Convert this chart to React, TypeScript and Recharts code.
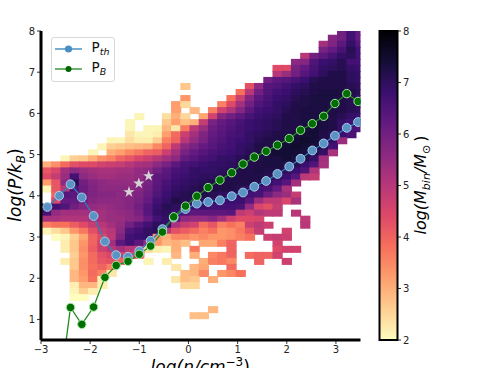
import { Bar, BarChart, ComposedChart, Label, Legend, Line, Scatter, XAxis, YAxis, ZAxis } from "recharts";

const FONT = "DejaVu Sans";

// log mass per bin, one list per row of the histogram, top row first; 0 = empty bin
const rowStarts = [32, 31, 30, 30, 28, 27, 25, 25, 24, 15, 21, 15, 14, 14, 10, 9, 9, 9, 7, 6, 5, 2, 0, 0, 0, 0, 0, 1, 1, 0, 0, 0, 0, 0, 1, 2, 2, 3, 2, 3, 3, 3, 3, 3, 3, 18, 16];
const row00 = [6.0, 6.7, 6.2];
const row01 = [5.7, 6.0, 6.7, 6.2];
const row02 = [5.3, 5.8, 6.3, 6.9, 6.4];
const row03 = [5.9, 6.2, 6.6, 7.1, 6.7];
const row04 = [5.0, 6.0, 6.3, 6.6, 6.9, 7.0, 6.7];
const row05 = [5.6, 5.7, 6.5, 6.8, 6.9, 7.1, 6.7, 6.7];
const row06 = [4.4, 4.4, 5.9, 6.2, 6.6, 6.9, 7.0, 7.1, 6.9, 6.8];
const row07 = [5.0, 5.4, 6.0, 6.4, 6.7, 7.0, 7.2, 7.2, 7.0, 6.9];
const row08 = [6.0, 6.3, 6.4, 6.6, 6.8, 7.1, 7.2, 7.2, 7.2, 7.0, 6.9];
const row09 = [2.7, 0, 0, 0, 0, 0, 0, 4.3, 5.6, 6.4, 6.5, 6.7, 6.9, 7.0, 7.2, 7.2, 7.2, 7.2, 7.1, 7.0];
const row10 = [3.8, 5.0, 6.0, 6.5, 6.7, 6.8, 7.0, 7.1, 7.2, 7.3, 7.3, 7.3, 7.2, 7.1];
const row11 = [3.3, 0, 0, 0, 0, 3.8, 4.7, 5.7, 6.3, 6.6, 6.8, 6.9, 7.1, 7.2, 7.3, 7.3, 7.3, 7.2, 7.1, 6.9];
const row12 = [3.2, 2.5, 0, 0, 0, 3.6, 4.4, 5.3, 6.0, 6.5, 6.7, 6.9, 7.0, 7.2, 7.2, 7.3, 7.3, 7.2, 7.2, 7.1, 7.1];
const row13 = [3.2, 0, 2.9, 0, 3.6, 4.6, 5.1, 5.7, 6.3, 6.7, 6.8, 6.9, 7.1, 7.2, 7.3, 7.3, 7.3, 7.2, 7.2, 7.1, 7.0];
const row14 = [2.1, 0, 0, 2.4, 3.0, 2.5, 0, 3.1, 4.6, 5.7, 6.0, 6.3, 6.6, 6.8, 6.9, 7.0, 7.2, 7.2, 7.3, 7.3, 7.3, 7.2, 7.1, 6.9, 6.8];
const row15 = [2.1, 0, 0, 0, 2.7, 3.2, 2.8, 3.0, 4.8, 5.9, 6.2, 6.4, 6.6, 6.8, 6.9, 7.0, 7.1, 7.2, 7.2, 7.3, 7.4, 7.3, 7.2, 6.9, 6.7, 6.6];
const row16 = [2.1, 0, 2.1, 2.1, 2.9, 2.3, 3.7, 4.9, 5.4, 6.1, 6.3, 6.5, 6.7, 6.8, 6.9, 7.0, 7.1, 7.2, 7.2, 7.3, 7.4, 7.3, 7.2, 6.9, 6.6, 6.5];
const row17 = [2.3, 2.1, 2.1, 2.2, 3.2, 3.9, 4.7, 5.3, 5.8, 6.2, 6.4, 6.6, 6.7, 6.9, 7.0, 7.1, 7.2, 7.2, 7.3, 7.4, 7.4, 7.2, 7.1, 6.8, 6.6];
const row18 = [2.1, 2.1, 2.4, 2.2, 2.2, 2.6, 3.6, 4.0, 5.0, 5.5, 5.9, 6.3, 6.5, 6.7, 6.8, 6.9, 7.1, 7.2, 7.2, 7.3, 7.4, 7.5, 7.4, 7.2, 6.9, 5.4];
const row19 = [2.1, 2.6, 2.7, 2.8, 2.9, 3.0, 3.5, 4.0, 4.9, 5.6, 5.9, 6.2, 6.4, 6.6, 6.7, 6.9, 7.0, 7.2, 7.2, 7.3, 7.4, 7.5, 7.4, 7.3, 7.1, 6.7];
const row20 = [2.1, 0, 3.0, 3.2, 3.5, 3.7, 4.0, 4.1, 4.7, 5.3, 5.9, 6.2, 6.4, 6.6, 6.7, 6.8, 6.9, 7.1, 7.2, 7.3, 7.4, 7.4, 7.4, 7.3, 7.2, 6.9, 5.2];
const row21 = [2.1, 2.6, 2.7, 3.0, 3.4, 3.6, 4.0, 4.2, 4.5, 4.7, 5.0, 5.3, 5.6, 6.2, 6.4, 6.6, 6.7, 6.9, 6.9, 7.1, 7.2, 7.2, 7.3, 7.3, 7.4, 7.3, 7.2, 6.9, 5.3];
const row22 = [3.0, 3.4, 3.9, 4.3, 4.4, 4.4, 4.6, 4.7, 4.8, 5.0, 5.2, 5.3, 5.6, 5.9, 6.3, 6.6, 6.7, 6.8, 6.9, 6.9, 7.0, 7.1, 7.2, 7.2, 7.3, 7.3, 7.2, 7.1, 6.8, 6.5, 5.2];
const row23 = [4.2, 4.5, 5.3, 5.6, 5.4, 5.3, 5.2, 5.2, 5.3, 5.3, 5.5, 5.6, 6.0, 6.3, 6.6, 6.7, 6.9, 6.9, 6.9, 7.0, 7.1, 7.2, 7.2, 7.3, 7.2, 7.2, 7.0, 6.8, 6.5, 5.1];
const row24 = [4.4, 4.8, 5.4, 6.7, 5.6, 5.4, 5.3, 5.3, 5.4, 5.4, 5.5, 5.8, 6.3, 6.4, 6.7, 6.8, 6.9, 7.0, 7.0, 7.1, 7.2, 7.2, 7.2, 7.2, 7.1, 7.0, 6.8, 6.4, 4.9, 4.8];
const row25 = [3.2, 4.2, 5.6, 7.1, 6.0, 5.7, 5.6, 5.5, 5.5, 5.5, 5.6, 5.9, 6.3, 6.6, 6.8, 6.9, 7.0, 7.1, 7.2, 7.2, 7.2, 7.2, 7.2, 7.1, 6.9, 6.7, 6.4, 5.3];
const row26 = [2.1, 4.2, 5.0, 6.5, 6.1, 5.8, 5.6, 5.6, 5.6, 5.6, 5.7, 6.0, 6.4, 6.7, 6.9, 7.0, 7.1, 7.2, 7.2, 7.2, 7.2, 7.1, 6.9, 6.7, 6.6, 6.2, 5.2];
const row27 = [4.0, 6.4, 6.3, 6.0, 5.8, 5.7, 5.7, 5.6, 5.7, 5.8, 6.1, 6.5, 6.8, 7.0, 7.1, 7.2, 7.2, 7.1, 7.0, 6.9, 6.9, 6.7, 6.6, 6.1, 5.6, 5.4, 4.8];
const row28 = [4.4, 6.2, 6.2, 6.0, 5.7, 5.6, 5.6, 5.6, 5.7, 5.9, 6.2, 6.7, 6.9, 7.2, 7.1, 7.0, 6.9, 6.9, 6.8, 6.8, 6.8, 6.4, 5.4, 4.9, 4.9, 4.5, 5.2];
const row29 = [7.0, 6.7, 6.5, 6.0, 5.7, 5.5, 5.4, 5.5, 5.6, 5.7, 6.0, 6.4, 6.8, 7.1, 7.0, 6.9, 6.8, 6.8, 6.7, 6.7, 6.7, 6.6, 5.5, 4.5, 4.3, 4.8];
const row30 = [6.6, 5.5, 5.3, 5.3, 5.3, 5.3, 5.3, 5.4, 5.5, 5.6, 5.9, 6.4, 6.9, 7.0, 6.8, 6.5, 6.3, 6.3, 6.3, 6.3, 6.4, 4.9, 4.7, 5.1, 4.9, 4.9, 0, 5.0];
const row31 = [5.2, 5.2, 5.1, 5.1, 5.1, 5.2, 5.3, 5.4, 5.4, 5.6, 5.7, 6.2, 6.7, 6.9, 6.5, 5.6, 5.5, 5.5, 5.7, 5.3, 4.7, 4.4, 4.4, 4.5, 0, 0, 0, 0, 4.9];
const row32 = [3.6, 3.8, 3.8, 4.1, 4.4, 4.8, 5.0, 5.3, 5.5, 6.0, 6.4, 6.7, 7.0, 6.9, 5.2, 4.8, 4.6, 3.9, 4.2, 3.6, 3.8, 3.6, 4.7, 4.9, 4.7, 0, 0, 0, 5.0];
const row33 = [2.1, 2.4, 2.7, 3.3, 3.7, 4.3, 4.8, 5.0, 5.6, 6.5, 6.7, 6.9, 7.1, 5.0, 4.3, 4.1, 3.9, 3.6, 3.8, 3.3, 3.4, 3.7, 4.2, 4.8, 0, 0, 4.6];
const row34 = [2.0, 2.1, 2.6, 3.1, 4.0, 4.4, 4.9, 5.8, 6.7, 6.8, 6.9, 3.3, 3.0, 3.5, 3.5, 3.3, 3.5, 3.3, 3.3, 3.4, 3.6, 3.8, 0, 4.7, 4.8, 4.7];
const row35 = [2.2, 2.7, 3.3, 4.0, 4.6, 5.3, 6.3, 6.7, 6.3, 5.5, 3.3, 2.9, 3.0, 2.8, 0, 3.1, 3.1, 3.6, 4.0, 0, 0, 0, 0, 4.6];
const row36 = [2.2, 2.7, 3.4, 4.1, 4.7, 5.0, 5.3, 5.0, 4.8, 2.4, 2.2, 2.1, 3.0, 0, 3.7, 0, 0, 0, 4.0, 0, 0, 0, 0, 4.4, 4.6, 4.6];
const row37 = [2.6, 3.3, 3.9, 4.3, 4.5, 4.6, 4.5, 4.2, 0, 0, 0, 2.9, 0, 3.0, 0, 3.5, 3.7, 4.0, 0, 3.9, 4.0, 4.0, 4.6];
const row38 = [2.2, 2.7, 3.4, 3.9, 4.2, 4.3, 4.0, 0, 0, 2.1, 0, 2.2, 0, 0, 0, 3.0, 3.6, 3.7, 3.5, 0, 0, 4.0, 0, 0, 4.7];
const row39 = [2.7, 3.4, 3.8, 4.0, 3.6, 0, 0, 0, 0, 0, 0, 2.3, 0, 2.9, 3.1, 0, 0, 3.9];
const row40 = [2.9, 3.3, 3.9, 3.6, 2.3, 0, 0, 0, 0, 0, 0, 0, 2.8, 2.9, 3.5, 0, 3.3, 3.5, 3.8];
const row41 = [2.9, 3.2, 3.8, 2.2, 0, 0, 0, 0, 0, 0, 0, 2.3, 2.8, 2.7, 0, 3.0];
const row42 = [2.2, 2.9, 2.9, 2.2, 0, 0, 0, 0, 0, 0, 0, 0, 2.5, 2.5];
const row43 = [2.1, 2.6, 2.2];
const row44 = [2.0, 2.0];
const row46 = [2.9];
const row47 = [2.8, 2.8];

const massRows = [
  row00, row01, row02, row03, row04, row05, row06, row07, row08, row09, row10, row11,
  row12, row13, row14, row15, row16, row17, row18, row19, row20, row21, row22, row23,
  row24, row25, row26, row27, row28, row29, row30, row31, row32, row33, row34, row35,
  row36, row37, row38, row39, row40, row41, row42, row43, row44, row46, row47,
];
const rowIndex = massRows.map((_, i) => (i < 45 ? i : i + 1));

const nBins = [-2.87, -2.63, -2.4, -2.17, -1.93, -1.7, -1.47, -1.23, -1.0, -0.77, -0.53, -0.3, -0.06, 0.17, 0.4, 0.64, 0.88, 1.11, 1.34, 1.58, 1.81, 2.05, 2.28, 2.52, 2.75, 2.98, 3.22, 3.45];
const pThermal = [3.73, 4.0, 4.28, 3.96, 3.51, 2.89, 2.56, 2.52, 2.66, 2.91, 3.19, 3.47, 3.68, 3.81, 3.85, 3.89, 3.99, 4.08, 4.22, 4.36, 4.53, 4.71, 4.9, 5.1, 5.27, 5.46, 5.65, 5.79];
const pMagnetic = [-3.2, -0.8, 1.29, 0.88, 1.3, 2.02, 2.31, 2.41, 2.58, 2.78, 3.12, 3.49, 3.75, 3.99, 4.2, 4.38, 4.56, 4.77, 4.94, 5.08, 5.23, 5.39, 5.59, 5.75, 5.93, 6.24, 6.48, 6.29];
const starN = [-1.21, -1.01, -0.81];
const starP = [4.09, 4.3, 4.48];

const xTicks = [-3, -2, -1, 0, 1, 2, 3];
const yTicks = [1, 2, 3, 4, 5, 6, 7, 8];
const barTicks = [2, 3, 4, 5, 6, 7, 8];

// magma reversed, from log mass 2 up to 8
const magma = ["#fcfdbf", "#fecf92", "#fe9f6d", "#f7705c", "#de4968", "#b73779", "#8c2981", "#641a80", "#3b0f70", "#140e36", "#000004"];

const X_EDGE = -2.97;
const X_STEP = 0.1876;
const Y_EDGE = 8.044;
const Y_STEP = 0.1464;
const CELL_W = 9.23;
const CELL_H = 6.02;

function hexToRgb(hex: string) {
  return [1, 3, 5].map((i) => parseInt(hex.slice(i, i + 2), 16));
}

function massColor(mass: number) {
  const t = ((mass - 2) / 6) * (magma.length - 1);
  const lo = Math.max(0, Math.min(magma.length - 2, Math.floor(t)));
  const a = hexToRgb(magma[lo]);
  const b = hexToRgb(magma[lo + 1]);
  const f = t - lo;
  return `rgb(${a.map((v, i) => Math.round(v + (b[i] - v) * f)).join(",")})`;
}

const cells = massRows.flatMap((row, r) =>
  row
    .map((mass, i) => ({
      x: X_EDGE + X_STEP * (rowStarts[r] + i + 0.5),
      y: Y_EDGE - Y_STEP * (rowIndex[r] + 0.5),
      mass,
    }))
    .filter((c) => c.mass > 0),
);
const thermalData = nBins.map((x, i) => ({ x, y: pThermal[i] }));
const magneticData = nBins.map((x, i) => ({ x, y: pMagnetic[i] }));
const starData = starN.map((x, i) => ({ x, y: starP[i] }));
const barData = [{ name: "mass", span: [2, 8] }];

const legendItems = [
  { name: "Pth", sub: "th", line: "#2f7fb8", fill: "#4a8fc4", r: 3.6 },
  { name: "PB", sub: "B", line: "#1f8a1f", fill: "#006400", r: 3 },
];

function HeatCell(props: any) {
  return (
    <rect
      x={props.cx - CELL_W / 2 - 0.5}
      y={props.cy - CELL_H / 2 - 0.5}
      width={CELL_W + 1}
      height={CELL_H + 1}
      fill={massColor(props.payload ? props.payload.mass : props.mass)}
    />
  );
}

function PressureLegend() {
  return (
    <div style={{ boxSizing: "border-box", width: 64, height: 45, border: "1px solid #d8d8d8", borderRadius: 3, background: "rgba(255,255,255,0.85)", fontFamily: FONT, color: "#111" }}>
      {legendItems.map((item, i) => (
        <div key={item.name} style={{ position: "absolute", left: 4, top: i === 0 ? 1 : 21, height: 20, display: "flex", alignItems: "center" }}>
          <svg width={28} height={20}>
            <line x1={0} x2={27} y1={11} y2={11} stroke={item.line} strokeWidth={1.3} />
            <circle cx={13.5} cy={11} r={item.r} fill={item.fill} />
          </svg>
          <span style={{ marginLeft: 9, fontSize: 13.5, lineHeight: "20px" }}>
            P<span style={{ fontStyle: "italic", fontSize: 9.5, position: "relative", top: 3 }}>{item.sub}</span>
          </span>
        </div>
      ))}
    </div>
  );
}

function XTitle({ viewBox }: any) {
  return (
    <text x={viewBox.x + viewBox.width / 2 - 0.5} y={viewBox.y + viewBox.height + 5} textAnchor="middle" fontFamily={FONT} fontSize={17} fontStyle="italic" fill="#000">
      log(n/cm<tspan dy={-7} fontSize={12} fontStyle="normal">−3</tspan>
      <tspan dy={7} fontStyle="normal">)</tspan>
    </text>
  );
}

function YTitle({ viewBox }: any) {
  const cy = viewBox.y + viewBox.height / 2 - 0.5;
  return (
    <text transform={`translate(21 ${cy}) rotate(-90)`} textAnchor="middle" fontFamily={FONT} fontSize={17} fontStyle="italic" fill="#000">
      log(P/k<tspan dy={4} fontSize={12}>B</tspan>
      <tspan dy={-4} fontStyle="normal">)</tspan>
    </text>
  );
}

function BarTitle() {
  return (
    <text transform="translate(56 185) rotate(-90)" textAnchor="middle" fontFamily={FONT} fontSize={16} fontStyle="italic" fill="#000">
      log(M<tspan dy={4} fontSize={11}>bin</tspan>
      <tspan dy={-4}>/M</tspan>
      <tspan dy={4} fontSize={11} fontStyle="normal">⊙</tspan>
      <tspan dy={-4} dx={3} fontStyle="normal">)</tspan>
    </text>
  );
}

const tickStyle = { fontFamily: FONT, fontSize: 10, fill: "#222" };

export default function App() {
  return (
    <div style={{ position: "fixed", left: 0, top: 0, width: 492, height: 368, overflow: "hidden", background: "#fff" }}>
      <ComposedChart width={380} height={368} margin={{ top: 31, right: 19.5, bottom: 0, left: 0 }}>
        <ZAxis range={[40, 40]} />
        <XAxis
          dataKey="x"
          type="number"
          domain={[-3, 3.5]}
          ticks={xTicks}
          allowDataOverflow
          height={28}
          tick={tickStyle}
          tickFormatter={(v: number) => String(v).replace("-", "−")}
          tickSize={4}
          stroke="#000"
          axisLine={{ stroke: "#000", strokeWidth: 3 }}
          tickLine={{ stroke: "#000", strokeWidth: 0.8 }}
        >
          <Label content={XTitle} />
        </XAxis>
        <XAxis xAxisId="top" orientation="top" dataKey="x" type="number" domain={[-3, 3.5]} height={0} tick={false} tickLine={false} axisLine={{ stroke: "#000", strokeWidth: 3 }} />
        <YAxis
          dataKey="y"
          type="number"
          domain={[0.5, 8]}
          ticks={yTicks}
          allowDataOverflow
          width={41}
          tick={tickStyle}
          tickSize={4}
          axisLine={{ stroke: "#000", strokeWidth: 3 }}
          tickLine={{ stroke: "#000", strokeWidth: 0.8 }}
        >
          <Label content={YTitle} />
        </YAxis>
        <YAxis yAxisId="right" orientation="right" dataKey="y" type="number" domain={[0.5, 8]} width={0} tick={false} tickLine={false} axisLine={{ stroke: "#000", strokeWidth: 3 }} />
        <Scatter data={cells} dataKey="y" shape={HeatCell} legendType="none" zIndex={50} isAnimationActive={false} />
        <Line data={thermalData} dataKey="y" name="Pth" stroke="#2f7fb8" strokeWidth={1.3} dot={{ r: 4.4, fill: "#5b93c4", stroke: "#a8cfe8", strokeWidth: 1, fillOpacity: 1 }} isAnimationActive={false} />
        <Line data={magneticData} dataKey="y" name="PB" stroke="#1f8a1f" strokeWidth={1.3} dot={{ r: 4.2, fill: "#006e00", stroke: "#a4e8a4", strokeWidth: 1, fillOpacity: 1 }} isAnimationActive={false} />
        <Scatter data={starData} dataKey="y" shape="star" fill="#d4d4d4" legendType="none" isAnimationActive={false} />
        <Legend layout="vertical" align="center" verticalAlign="middle" content={PressureLegend} wrapperStyle={{ position: "absolute", left: 50.5, top: 37, width: 64, height: 45, bottom: "auto", right: "auto" }} />
      </ComposedChart>
      <div style={{ position: "absolute", left: 370, top: 0 }}>
        <BarChart width={82} height={368} data={barData} margin={{ top: 31, right: 0, bottom: 28, left: 9.5 }} barCategoryGap={0}>
          <defs>
            <linearGradient id="magmaBar" x1="0" y1="1" x2="0" y2="0">
              {magma.map((c, i) => (
                <stop key={c} offset={i / (magma.length - 1)} stopColor={c} />
              ))}
            </linearGradient>
          </defs>
          <XAxis dataKey="name" hide />
          <YAxis orientation="right" type="number" domain={[2, 8]} ticks={barTicks} width={55} tick={tickStyle} tickSize={4} axisLine={false} tickLine={{ stroke: "#000", strokeWidth: 0.8 }}>
            <Label content={BarTitle} />
          </YAxis>
          <Bar dataKey="span" fill="url(#magmaBar)" stroke="#000" strokeWidth={2} isAnimationActive={false} />
        </BarChart>
      </div>
    </div>
  );
}
